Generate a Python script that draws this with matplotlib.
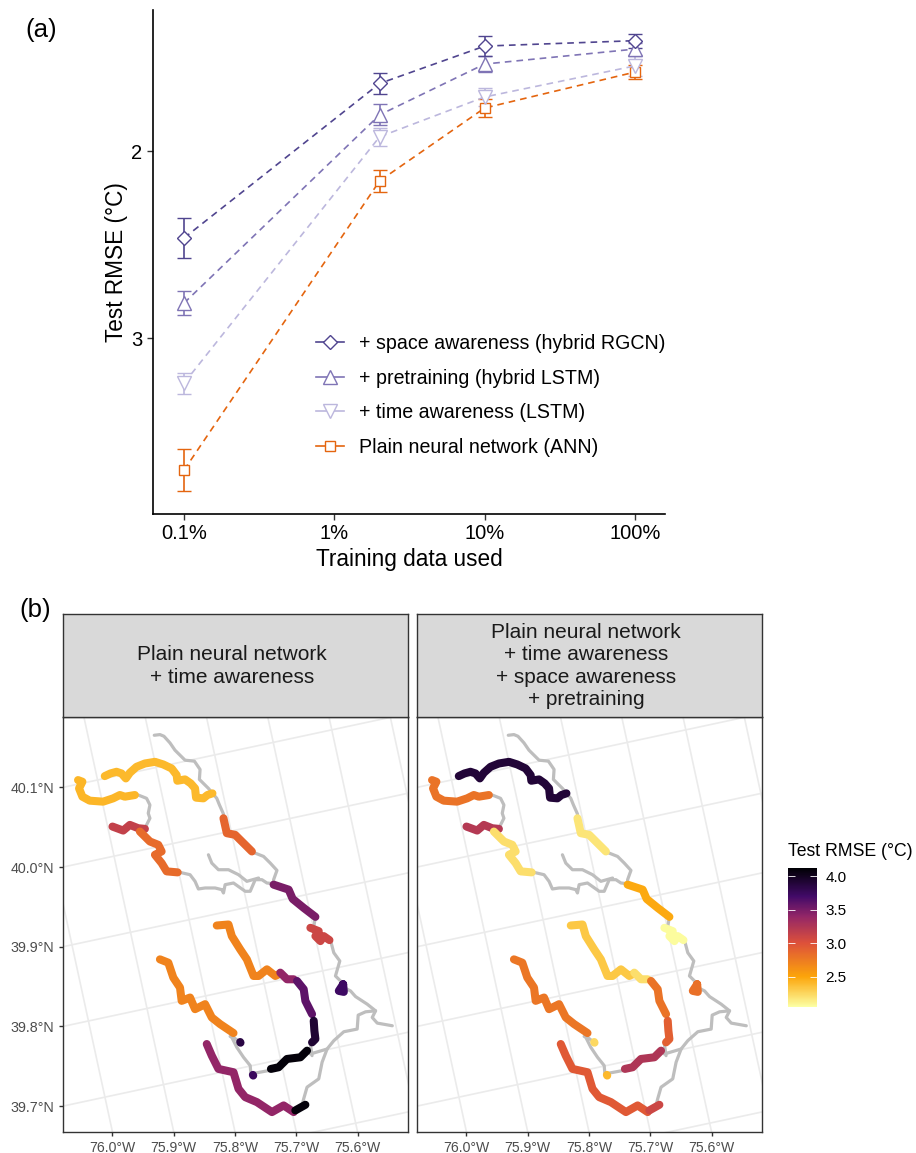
import matplotlib
matplotlib.use("Agg")
import matplotlib.pyplot as plt
from matplotlib.colors import LinearSegmentedColormap, Normalize
from matplotlib.cm import ScalarMappable
from matplotlib.collections import LineCollection
from matplotlib.lines import Line2D

plt.rcParams['font.family'] = ['Liberation Sans', 'DejaVu Sans']

W, H = 916, 1153

# ---------- panel (a) data ----------
train_pct = [0.1, 2, 10, 100]
train_ticks = [0.1, 1, 10, 100]
train_labels = ['0.1%', '1%', '10%', '100%']
rmse_rgcn = [2.465, 1.639, 1.439, 1.410]
err_rgcn = [0.107, 0.057, 0.054, 0.037]
rmse_hybrid = [2.813, 1.807, 1.535, 1.455]
err_hybrid = [0.064, 0.056, 0.045, 0.035]
rmse_lstm = [3.241, 1.924, 1.711, 1.545]
err_lstm = [0.056, 0.047, 0.046, 0.056]
rmse_ann = [3.706, 2.160, 1.770, 1.578]
err_ann = [0.112, 0.059, 0.048, 0.037]
series_names = ['+ space awareness (hybrid RGCN)', '+ pretraining (hybrid LSTM)',
                '+ time awareness (LSTM)', 'Plain neural network (ANN)']

# ---------- panel (b) data: river reaches in projected map units ----------
gray_reaches = [
    [(283,75),(300,73),(312,78),(330,98),(345,120),(360,135),(375,150),(403,153),(420,178),(418,208),(445,235),(470,265),(478,285),(490,312),(490,322)],
    [(580,428),(610,440),(630,460),(650,482),(640,510),(640,522)],
    [(765,622),(760,652)],
    [(810,692),(820,730),(838,755),(825,800),(845,820)],
    [(850,835),(870,845),(885,862),(920,885),(945,905),(935,925),(950,942),(995,950)],
    [(945,905),(915,908),(893,918),(890,960),(850,968),(820,995),(800,1020),(750,1035)],
    [(800,1020),(785,1060),(775,1110),(740,1135),(730,1170),(725,1190)],
    [(755,1040),(750,1005)],
    [(625,1085),(572,1095),(570,1070),(550,1045),(530,1015),(515,985),(510,982)],
    [(520,985),(540,1000)],
    [(235,255),(260,265),(270,285),(265,310),(270,325),(255,355)],
    [(360,488),(390,495),(405,515),(415,538),(435,535),(465,535),(485,540),(490,550),(495,525),(520,520),(555,545),(570,545),(585,510),(605,510),(620,520),(640,522)],
    [(445,435),(455,460),(475,480),(505,480),(535,495),(560,515),(595,505)],
]
color_reaches = [
    [(135,198),(152,190),(170,185),(185,190),(198,205),(210,188),(230,170),(255,160),(285,155),(310,163),(335,175),(350,195),(352,212),(375,208),(392,220),(405,235),(408,263),(430,265),(442,255),(457,250)],
    [(55,210),(68,215),(58,235),(68,260),(90,272),(130,275),(160,265),(180,255),(195,260),(225,255)],
    [(158,350),(190,362),(210,345),(235,355),(255,357)],
    [(240,365),(270,395),(295,405),(305,425),(285,435),(305,460),(320,485),(353,488)],
    [(490,325),(500,370),(525,375),(550,400),(575,425)],
    [(640,525),(685,540),(697,568),(730,595),(765,622)],
    [(750,655),(775,665),(765,680),(780,695),(790,680),(807,692)],
    [(848,825),(835,845),(850,848),(848,825)],
    [(470,648),(505,645),(515,680),(540,720),(560,750),(580,800),(595,800),(620,780),(645,800),(655,795)],
    [(660,790),(680,810),(700,810)],
    [(710,815),(730,840),(735,875),(755,915)],
    [(760,935),(762,965),(765,990),(755,1000)],
    [(740,1025),(720,1045),(680,1050),(655,1075),(632,1080)],
    [(300,750),(325,760),(340,805),(360,835),(365,875),(390,865),(405,900),(435,885),(455,925),(480,945),(520,972)],
    [(440,1005),(455,1040),(475,1080),(520,1090),(535,1140),(555,1165),(590,1180),(635,1210),(670,1190),(700,1210)],
    [(705,1205),(735,1188)],
    [(540,999),(541,1001)],
    [(578,1098),(579,1100)],
]
rmse_time = [2.40,2.42,3.15,2.85,2.88,3.50,3.10,3.72,2.70,3.40,3.60,3.92,4.10,2.70,3.40,4.10,3.85,3.75]
rmse_full = [3.90,2.80,3.22,2.22,2.18,2.48,2.07,2.82,2.33,2.22,2.80,2.92,3.25,2.78,2.95,3.10,2.25,2.40]
panel_titles = ['Plain neural network\n+ time awareness',
                'Plain neural network\n+ time awareness\n+ space awareness\n+ pretraining']
lon_ticks = ['76.0°W', '75.9°W', '75.8°W', '75.7°W', '75.6°W']
lat_ticks = ['39.7°N', '39.8°N', '39.9°N', '40.0°N', '40.1°N']

cmap = LinearSegmentedColormap.from_list('rmse', [
    (0.0, '#FCFFA4'), (0.217, '#FCA50A'), (0.459, '#DD513A'),
    (0.652, '#932667'), (0.797, '#420A68'), (1.0, '#000004')])
norm = Normalize(2.05, 4.125)


def box(l, t, r, b):
    return [l / W, 1 - b / H, (r - l) / W, (b - t) / H]


fig = plt.figure(figsize=(W / 100, H / 100), dpi=100)

# ---------- panel (a) ----------
ax = fig.add_axes(box(153, 10, 665, 514))
styles = [(rmse_ann, err_ann, '#E4650F', 's', 7.2),
          (rmse_lstm, err_lstm, '#BCB7DD', 'v', 10.5),
          (rmse_hybrid, err_hybrid, '#7F74B5', '^', 10.5),
          (rmse_rgcn, err_rgcn, '#50458F', 'D', 7.3)]
names = series_names[::-1]
handles = {}
for (vals, errs, col, mk, ms), nm in zip(styles, names):
    ax.errorbar(train_pct, vals, yerr=errs, color=col, ls=(0, (4, 3)), lw=1.2,
                marker=mk, ms=ms, mfc='white', mec=col, mew=1.0,
                capsize=5.3, capthick=1.2, elinewidth=1.2)
    handles[nm] = Line2D([], [], color=col, lw=1.2, marker=mk, ms=ms, mfc='white', mec=col, mew=1.0)
ax.set_xscale('log')
ax.set_xlim(10 ** (-1 - 31 / 150), 10 ** (2 + 30 / 150))
ax.set_ylim(3.941, 1.246)
ax.set_yticks([2, 3])
ax.set_yticklabels(['2', '3'], fontsize=14.5)
ax.set_xticks(train_ticks)
ax.set_xticklabels(train_labels, fontsize=14.5)
ax.minorticks_off()
ax.tick_params(length=4, width=1, color='#333333', labelcolor='black')
ax.set_xlabel('Training data used', fontsize=16.3, labelpad=3.5)
ax.set_ylabel('Test RMSE (°C)', fontsize=16.3, labelpad=2.5)
for s in ('top', 'right'):
    ax.spines[s].set_visible(False)
for s in ('left', 'bottom'):
    ax.spines[s].set_linewidth(1.2)
ax.legend([handles[n] for n in series_names], series_names, frameon=False, fontsize=14.1,
          loc='upper left', bbox_to_anchor=((316 - 153) / 512, 1 - (334 - 10) / 504),
          borderaxespad=0, borderpad=0, labelspacing=0.8, handlelength=1.43, handletextpad=0.75)

fig.text(25 / W, 1 - 30 / H, '(a)', fontsize=18.5, va='center')
fig.text(19 / W, 1 - 610 / H, '(b)', fontsize=18.5, va='center')

# ---------- panel (b) ----------
XL, XR, YB, YT = 10, 1042, 1270, 20


def lon_line(i, y):
    return 158 + 183.3 * i + 0.215 * (y - 1270)


def lat_line(j, x):
    return 1192 - 240 * j - 0.2155 * (x - 10)


for k, (pl, pr, vals, title) in enumerate(zip([63, 417], [408, 762], [rmse_time, rmse_full], panel_titles)):
    m = fig.add_axes(box(pl, 717, pr, 1132))
    for i in range(-1, 8):
        m.plot([lon_line(i, YB), lon_line(i, YT)], [YB, YT], color='#EBEBEB', lw=1.2, zorder=1)
    for j in range(-1, 6):
        m.plot([XL, XR], [lat_line(j, XL), lat_line(j, XR)], color='#EBEBEB', lw=1.2, zorder=1)
    m.add_collection(LineCollection(gray_reaches, colors='#BEBEBE', linewidths=2.3, zorder=2,
                                    capstyle='round', joinstyle='round'))
    m.add_collection(LineCollection(color_reaches, colors=cmap(norm(vals)), linewidths=5.8, zorder=3,
                                    capstyle='round', joinstyle='round'))
    m.set_xlim(XL, XR)
    m.set_ylim(YB, YT)
    m.set_xticks([lon_line(i, YB) for i in range(5)])
    m.set_xticklabels(lon_ticks, fontsize=10.1, color='#4D4D4D')
    if k == 0:
        m.set_yticks([lat_line(j, XL) for j in range(5)])
        m.set_yticklabels(lat_ticks, fontsize=10.3, color='#4D4D4D')
    else:
        m.set_yticks([])
    m.tick_params(length=3, width=1, color='#333333', pad=3.5)
    for s in m.spines.values():
        s.set_color('#333333')
        s.set_linewidth(1)
    st = fig.add_axes(box(pl, 614, pr, 717))
    st.set_facecolor('#D9D9D9')
    st.set_xticks([])
    st.set_yticks([])
    for s in st.spines.values():
        s.set_color('#333333')
        s.set_linewidth(1)
    st.text(0.49, 0.495, title, transform=st.transAxes, ha='center', va='center',
            fontsize=15, color='#1A1A1A', linespacing=1.22)

# ---------- colour bar ----------
cax = fig.add_axes(box(788, 868, 817, 1007))
cb = fig.colorbar(ScalarMappable(norm=norm, cmap=cmap), cax=cax)
cb.set_ticks([2.5, 3.0, 3.5, 4.0])
cb.set_ticklabels(['2.5', '3.0', '3.5', '4.0'], fontsize=11)
cb.outline.set_visible(False)
cax.tick_params(axis='y', direction='in', length=5, width=0.6, color='white', left=True, right=True, pad=6)
fig.text(788 / W, 1 - 851 / H, 'Test RMSE (°C)', fontsize=12.7, va='center')

fig.savefig('out.png', dpi=100)
